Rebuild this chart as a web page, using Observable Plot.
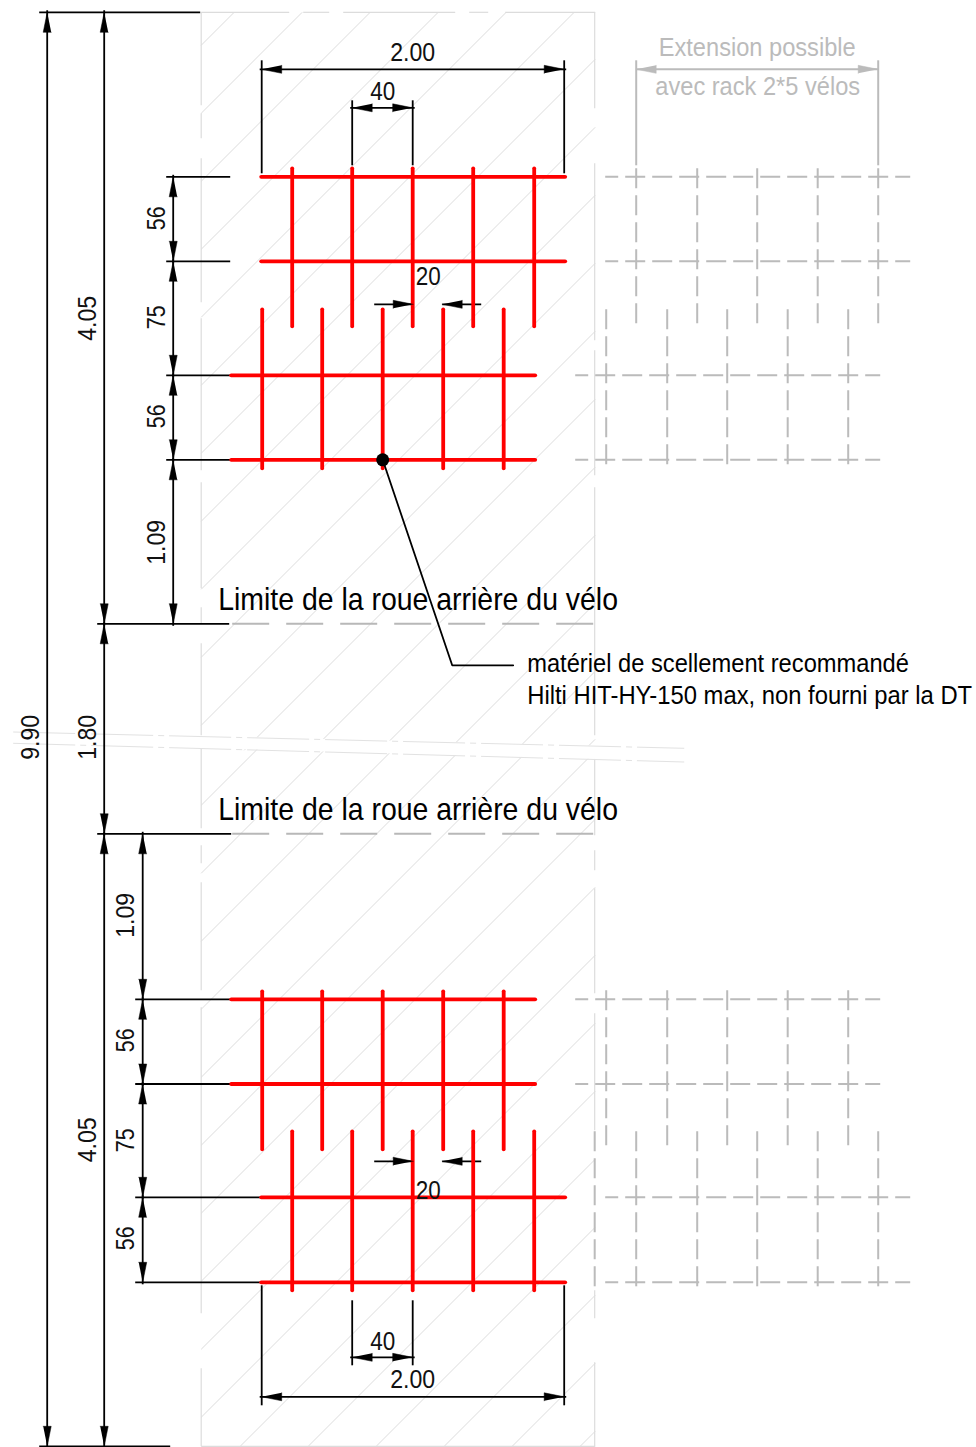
<!DOCTYPE html>
<html>
<head>
<meta charset="utf-8">
<script src="https://cdn.jsdelivr.net/npm/d3@7"></script>
<script src="https://cdn.jsdelivr.net/npm/@observablehq/plot@0.6"></script>
<style>
html,body{margin:0;padding:0;background:#fff}
svg{display:block;background:#fff}
</style>
</head>
<body>
<div id="chart"></div>
<script>
// --- hatch intercepts (x + y = c) ---
const hatchUpper = [246,314,382,450,518,586,654,722,790,858,926,994,1062,1130,1198,1266,1334];
const hatchLower = [1006,1074,1142,1210,1278,1346,1414,1482,1550,1618,1686,1754,1822,1890,1958,2026];
// --- slab outline pieces [x1,y1,x2,y2] ---
const slabEdges = [
 [201,12,289,12],[303,12,329,12],[343,12,455,12],[469,12,488,12],[505,12,595,12],
 [201,1446,595,1446],
 [201,12,201,105],[201,113,201,138],[201,158,201,302],[201,318,201,470],[201,482,201,588],[201,607,201,623],
 [201,643,201,735],[201,748,201,828],[201,845,201,863],[201,882,201,990],[201,1007,201,1313],[201,1368,201,1446],
 [594.5,12,594.5,108],[594.5,163,594.5,340],[594.5,350,594.5,475],[594.5,487,594.5,735],[594.5,748,594.5,835],
 [594.5,850,594.5,870],[594.5,888,594.5,993],[594.5,1013,594.5,1130],[594.5,1290,594.5,1318],[594.5,1362,594.5,1446]
];
const breakBand = [{x:13,a:731.7,b:743},{x:684,a:748,b:761.7}];
// --- racks ---
const tinesA = [292,352,412.5,473,534];
const tinesB = [262,322,382.5,443,503.5];
const tinesAExt = [636,697,757,817.5,878];
const tinesBExt = [606,667,727,787.5,848];
const redRacks = [
 {xs:tinesA,y1:168,y2:326,rails:[176.5,261],rx1:261,rx2:565},
 {xs:tinesB,y1:309,y2:468,rails:[375,459.5],rx1:231,rx2:535},
 {xs:tinesB,y1:991,y2:1149,rails:[999,1083.7],rx1:231,rx2:535},
 {xs:tinesA,y1:1131,y2:1290,rails:[1197,1282],rx1:261,rx2:565}
];
const greyRacks = [
 {xs:tinesAExt,y1:168,y2:326,rails:[176.5,261],rx1:605,rx2:910},
 {xs:tinesBExt,y1:309,y2:468,rails:[375,459.5],rx1:575,rx2:880},
 {xs:tinesBExt,y1:990,y2:1149,rails:[999,1083.7],rx1:575,rx2:880},
 {xs:tinesAExt,y1:1131,y2:1290,rails:[1197,1282],rx1:605,rx2:910},
 {xs:[594.5],y1:1131,y2:1290,rails:[],rx1:0,rx2:0}
];
const limitDashes = [623.5,833.5];
// --- black lines [x1,y1,x2,y2] ---
const extensionLines = [
 [39,12,200,12],[39,1446,170,1446],[97,623.5,229,623.5],[97,833.5,231,833.5],
 [166,176.5,230,176.5],[166,261,230,261],[166,375,231,375],[166,459.5,231,459.5],
 [135,999,231,999],[135,1083.7,231,1083.7],[135,1197,261,1197],[135,1282,261,1282],
 [261.5,60,261.5,173],[564,60,564,173],[352,100,352,165],[412.5,100,412.5,165],
 [352,1300,352,1365],[412.5,1300,412.5,1365],[261.5,1285,261.5,1405],[564,1285,564,1405]
];
const dimLines = [
 [47,12,47,1446],[104,12,104,623.5],[104,623.5,104,833.5],[104,833.5,104,1446],
 [173,176.5,173,261],[173,261,173,375],[173,375,173,459.5],[173,459.5,173,623.5],
 [142.5,833.5,142.5,999],[142.5,999,142.5,1083.7],[142.5,1083.7,142.5,1197],[142.5,1197,142.5,1282],
 [261.5,69,564,69],[352,107.5,412.5,107.5],[352,1357,412.5,1357],[261.5,1396.5,564,1396.5]
];
const outsideArrows = [[374,304,413],[481,304,442],[374,1161,413],[481,1161,442]];
const greyDim = [636,69,878,69];
const greyExt = [[636,60,636,165],[878,60,878,165]];
const leader = [{x:382.5,y:459.5},{x:452,y:665},{x:513,y:665}];
const anchorDot = [{x:382.5,y:459.5}];
// --- labels ---
const labelsBlack = [
 {t:"2.00",x:412.5,y:60.5},{t:"40",x:382.5,y:100},{t:"20",x:428,y:285},{t:"20",x:428,y:1199},
 {t:"40",x:382.5,y:1350},{t:"2.00",x:412.5,y:1388}
];
const labelsLimit = [{t:"Limite de la roue arrière du vélo",x:218,y:610},{t:"Limite de la roue arrière du vélo",x:218,y:819.5}];
const labelsNote = [{t:"matériel de scellement recommandé",x:527,y:671.5},{t:"Hilti HIT-HY-150 max, non fourni par la DT",x:527,y:704}];
const labelsGrey = [{t:"Extension possible",x:757,y:55.5},{t:"avec rack 2*5 vélos",x:757.5,y:95}];
const labelsRot = [
 {t:"9.90",x:39,y:737},{t:"1.80",x:96,y:737},{t:"4.05",x:96,y:318},{t:"4.05",x:96,y:1139.5},
 {t:"56",x:165,y:218},{t:"75",x:165,y:317},{t:"56",x:165,y:416},{t:"1.09",x:165,y:542},
 {t:"1.09",x:134,y:915},{t:"56",x:134,y:1040},{t:"75",x:134,y:1140},{t:"56",x:134,y:1238}
];
const labelWidths = {"2.00":45,"40":25,"20":25,"9.90":45,"1.80":45,"4.05":45,"1.09":45,"56":24,"75":24,
 "Limite de la roue arrière du vélo":400,"matériel de scellement recommandé":382,
 "Hilti HIT-HY-150 max, non fourni par la DT":445,"Extension possible":197,"avec rack 2*5 vélos":205};

// --- helpers ---
const seg = a => ({x1:a[0],y1:a[1],x2:a[2],y2:a[3]});
function hatch(cs,ymin,ymax){
  return cs.map(c=>{
    const x1=Math.max(201,c-ymax), x2=Math.min(595,c-ymin);
    return {x1,y1:c-x1,x2,y2:c-x2};
  }).filter(d=>d.x1<d.x2);
}
const tri=[];
function arrow(tx,ty,dx,dy,id){
  const L=20,W=4;
  tri.push({id,x:tx,y:ty},{id,x:tx+dx*L-dy*W,y:ty+dy*L+dx*W},{id,x:tx+dx*L+dy*W,y:ty+dy*L-dx*W});
}
let n=0;
const greyTri=[];
for(const [x1,y1,x2,y2] of dimLines){
  const ux=Math.sign(x2-x1),uy=Math.sign(y2-y1);
  arrow(x1,y1,ux,uy,n++); arrow(x2,y2,-ux,-uy,n++);
}
for(const [tail,y,tip] of outsideArrows){ arrow(tip,y,Math.sign(tail-tip),0,n++); }
const greyArrowStart=tri.length;
arrow(greyDim[0],greyDim[1],1,0,n++); arrow(greyDim[2],greyDim[3],-1,0,n++);
greyTri.push(...tri.splice(greyArrowStart));
const tines=r=>r.xs.map(x=>({x1:x,y1:r.y1,x2:x,y2:r.y2}));
const rails=r=>r.rails.map(y=>({x1:r.rx1,y1:y,x2:r.rx2,y2:y}));
const links={x1:"x1",y1:"y1",x2:"x2",y2:"y2"};
const font="'Liberation Sans',Arial,sans-serif";
const dimOverrun=dimLines.map(([x1,y1,x2,y2])=>{
  const ux=Math.sign(x2-x1),uy=Math.sign(y2-y1);
  return {x1:x1-ux*2,y1:y1-uy*2,x2:x2+ux*2,y2:y2+uy*2};
});

const chart=Plot.plot({
  width:976,height:1447,margin:0,
  x:{domain:[0,976],range:[-0.3,975.7],axis:null},
  y:{domain:[0,1447],range:[-0.2,1446.8],axis:null},
  style:{background:"#fff",fontFamily:font},
  marks:[
    Plot.link(hatch(hatchUpper,12,750),{...links,stroke:"#dcdcdc",strokeWidth:1}),
    Plot.link(hatch(hatchLower,745,1446),{...links,stroke:"#dcdcdc",strokeWidth:1}),
    Plot.link(slabEdges.map(seg),{...links,stroke:"#dcdcdc",strokeWidth:1.2}),
    Plot.area(breakBand,{x1:"x",y1:"a",y2:"b",fill:"#fff"}),
    Plot.link([{x1:13,y1:731.7,x2:684,y2:748},{x1:13,y1:743,x2:684,y2:761.7}],{...links,stroke:"#e2e2e2",strokeWidth:1,strokeDasharray:"62 5 6 5"}),
    // grey extension
    Plot.link(greyRacks.flatMap(tines),{...links,stroke:"#bbb",strokeWidth:2,strokeDasharray:"20 7"}),
    Plot.link(greyRacks.flatMap(rails),{...links,stroke:"#bbb",strokeWidth:2,strokeDasharray:"20 7",strokeDashoffset:7}),
    Plot.link(limitDashes.map(y=>({x1:232,y1:y,x2:595,y2:y})),{...links,stroke:"#b8b8b8",strokeWidth:2,strokeDasharray:"37 17"}),
    Plot.link(greyExt.map(seg),{...links,stroke:"#bbb",strokeWidth:2}),
    Plot.link([seg(greyDim)],{...links,stroke:"#bbb",strokeWidth:2}),
    Plot.line(greyTri,{x:"x",y:"y",z:"id",fill:"#bbb",stroke:"#bbb",strokeWidth:0.5}),
    // black dimensions
    Plot.link(extensionLines.map(seg),{...links,stroke:"#000",strokeWidth:1.8}),
    Plot.link(dimOverrun,{...links,stroke:"#000",strokeWidth:1.8}),
    Plot.link(outsideArrows.map(([a,y,b])=>({x1:a,y1:y,x2:b,y2:y})),{...links,stroke:"#000",strokeWidth:1.8}),
    // red racks
    Plot.link(redRacks.flatMap(rails),{...links,stroke:"#ff0000",strokeWidth:3.8,strokeLinecap:"round"}),
    Plot.link(redRacks.flatMap(tines),{...links,stroke:"#ff0000",strokeWidth:3.8,strokeLinecap:"round"}),
    Plot.line(tri,{x:"x",y:"y",z:"id",fill:"#000",stroke:"#000",strokeWidth:0.5}),
    // leader
    Plot.line(leader,{x:"x",y:"y",stroke:"#000",strokeWidth:1.8}),
    Plot.dot(anchorDot,{x:"x",y:"y",r:6.5,fill:"#000"}),
    // text
    Plot.text(labelsBlack,{x:"x",y:"y",text:"t",fontSize:26,fill:"#111",textAnchor:"middle",lineAnchor:"bottom"}),
    Plot.text(labelsLimit,{x:"x",y:"y",text:"t",fontSize:31,fill:"#000",textAnchor:"start",lineAnchor:"bottom"}),
    Plot.text(labelsNote,{x:"x",y:"y",text:"t",fontSize:25,fill:"#000",textAnchor:"start",lineAnchor:"bottom"}),
    Plot.text(labelsGrey,{x:"x",y:"y",text:"t",fontSize:26,fill:"#bbb",textAnchor:"middle",lineAnchor:"bottom"}),
    Plot.text(labelsRot,{x:"x",y:"y",text:"t",fontSize:26,fill:"#111",rotate:-90,textAnchor:"middle",lineAnchor:"bottom"})
  ]
});
document.getElementById("chart").appendChild(chart);
// the drawing's lettering is horizontally condensed: scale each text to its measured width
chart.querySelectorAll("text").forEach(t=>{
  const w=labelWidths[t.textContent];
  if(!w) return;
  const s=w/t.getComputedTextLength();
  const tx=t.getAttribute("x"), ty=t.getAttribute("y");
  let base=t.getAttribute("transform")||"";
  if(tx!==null){ t.removeAttribute("x"); t.removeAttribute("y"); base+=` translate(${tx},${ty||0})`; }
  t.setAttribute("transform",`${base} scale(${s},1)`);
});
</script>
</body>
</html>
